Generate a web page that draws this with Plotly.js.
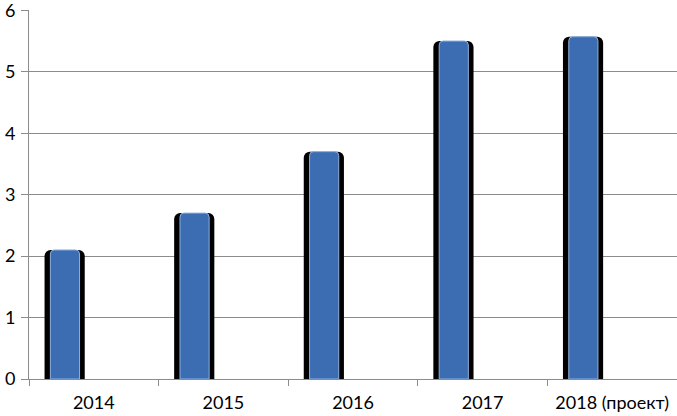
<!DOCTYPE html>
<html>
<head>
<meta charset="utf-8">
<script src="https://cdn.plot.ly/plotly-3.0.1.min.js"></script>
<style>
  html, body { margin: 0; padding: 0; background: #fff; }
  #chart { width: 677px; height: 416px; }
</style>
</head>
<body>
<div id="chart"></div>
<script>
// categories and values
var years = ['2014', '2015', '2016', '2017', '2018 (проект)'];
var values = [2.1, 2.7, 3.7, 5.5, 5.57];
var yTicks = [0, 1, 2, 3, 4, 5, 6];

// black "shadow" bar behind, blue bar in front (both shifted left of the category centre)
var shadow = {
    x: years,
    y: values,
    type: 'bar',
    offset: -0.38,
    width: 0.31,
    marker: { color: '#000000', cornerradius: 6, line: { width: 0 } },
    hoverinfo: 'skip'
};
var front = {
    x: years,
    y: values,
    type: 'bar',
    offset: -0.335,
    width: 0.225,
    marker: { color: '#3c6db3', cornerradius: 4, line: { color: '#8fb0dd', width: 1 } }
};

var layout = {
    width: 677,
    height: 416,
    margin: { l: 29, r: 0, t: 10, b: 37 },
    paper_bgcolor: '#ffffff',
    plot_bgcolor: '#ffffff',
    barmode: 'overlay',
    showlegend: false,
    font: { family: 'Lato, "Open Sans", sans-serif', size: 18, color: '#000' },
    xaxis: {
        type: 'category',
        showgrid: false,
        showline: true,
        linecolor: '#8c8c8c',
        linewidth: 1,
        ticks: 'outside',
        tickson: 'boundaries',
        ticklen: 6,
        tickcolor: '#8c8c8c',
        ticklabelstandoff: 7,
        ticklabeloverflow: 'allow'
    },
    yaxis: {
        range: [0, 6.005],
        tickvals: yTicks,
        showgrid: true,
        gridcolor: '#8c8c8c',
        gridwidth: 1,
        showline: true,
        linecolor: '#8c8c8c',
        ticks: 'outside',
        ticklen: 7,
        tickcolor: '#8c8c8c',
        zeroline: false,
        ticklabelstandoff: 2,
        ticklabeloverflow: 'allow'
    }
};

Plotly.newPlot('chart', [shadow, front], layout, { displayModeBar: false, staticPlot: true });
</script>
</body>
</html>
